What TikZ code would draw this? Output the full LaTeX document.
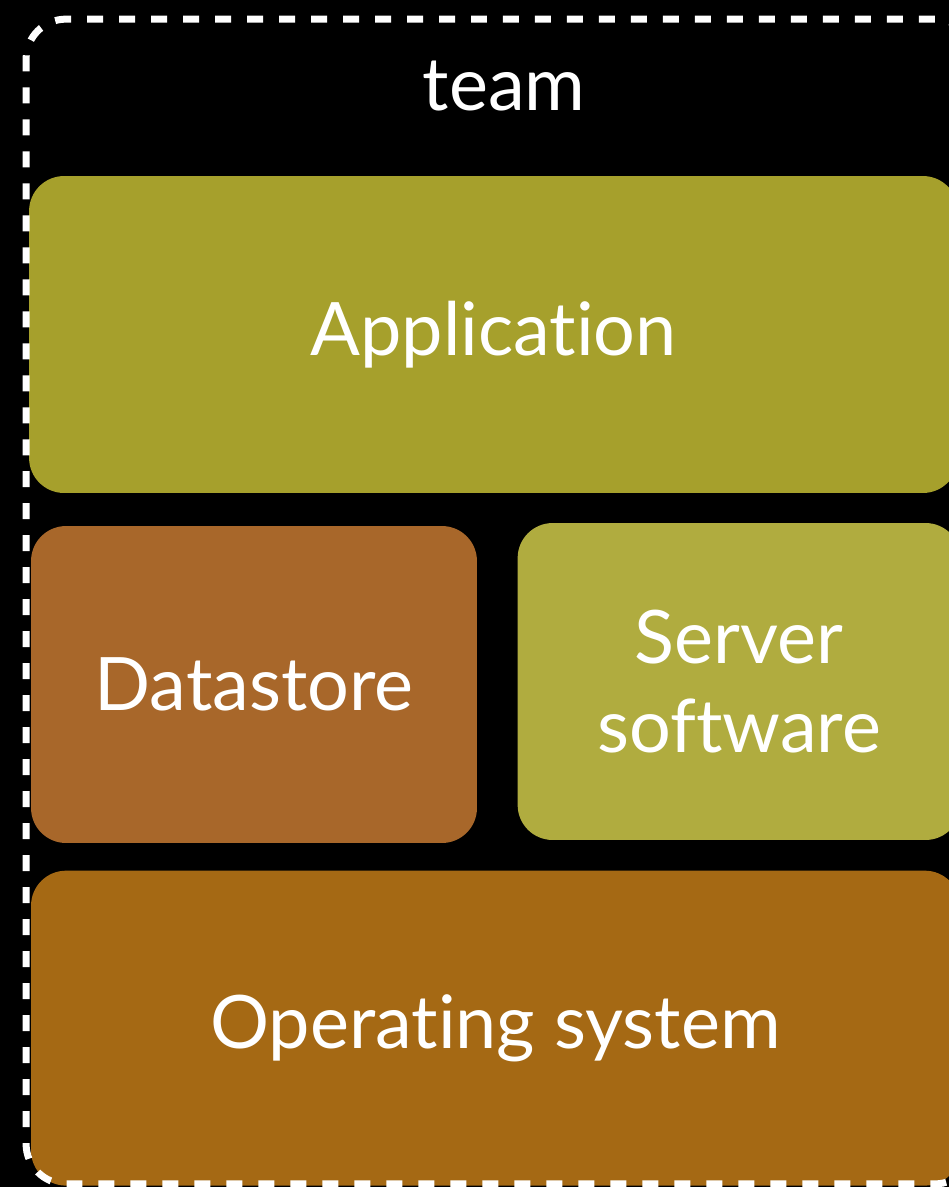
\documentclass[tikz,border=0pt]{standalone}
\usepackage{fontspec}
\setmainfont{Lato}[Ligatures=NoCommon]
\usetikzlibrary{positioning}

\definecolor{appgreen}{HTML}{A6A02C}
\definecolor{srvgreen}{HTML}{B0AC3F}
\definecolor{dsbrown}{HTML}{A8672A}
\definecolor{osbrown}{HTML}{A56914}

\begin{document}
\begin{tikzpicture}[x=0.02cm, y=-0.02cm,
    layer/.style={rounded corners=0.7cm, inner sep=0pt, text=white, align=center,
        font=\fontsize{42}{51}\selectfont, minimum height=6.34cm},
    teamframe/.style={draw=white, line width=0.14cm, dash pattern=on 0.32cm off 0.32cm,
        rounded corners=0.8cm, minimum width=18.98cm, minimum height=23.3cm, inner sep=0pt}]
    \useasboundingbox (0,0) rectangle (949,1187);
    \fill[black] (0,0) rectangle (949,1187);

    % the stack
    \node (app) [layer, fill=appgreen, minimum width=18.58cm] at (493.5,334.5) {Application};
    \node (ds) [layer, fill=dsbrown, minimum width=8.92cm] at (254,684.5) {Datastore};
    \node (srv) [layer, fill=srvgreen, minimum width=8.86cm, right=0.8cm of ds, yshift=0.06cm] {Server\\software};
    \node (os) [layer, fill=osbrown, minimum width=18.58cm, minimum height=6.3cm,
        below=0.54cm of ds.south west, anchor=north west] {Operating system};

    % dashed team boundary
    \node (frame) [teamframe] at (500.5,601.5) {};
    \node (team) [text=white, font=\fontsize{42}{51}\selectfont] at (504,86) {team};
\end{tikzpicture}
\end{document}
